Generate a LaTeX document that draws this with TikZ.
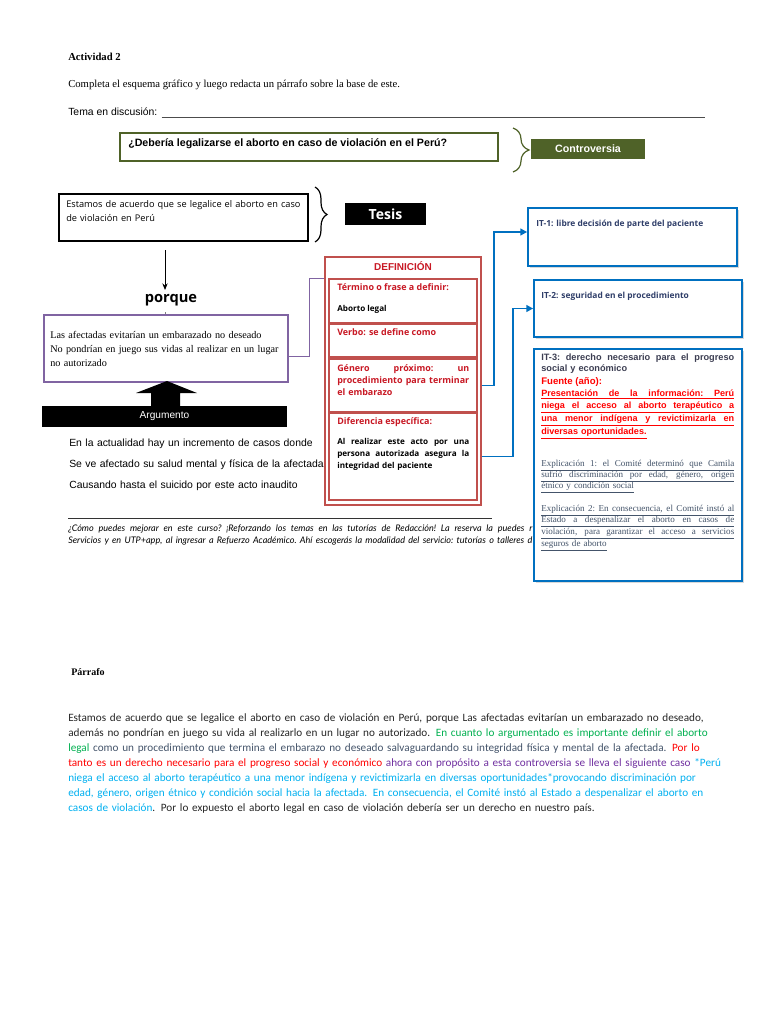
\documentclass[tikz,border=0pt]{standalone}
\usepackage{fontspec}
\setmainfont{Liberation Serif}
\newfontfamily\arial{Liberation Sans}
\newfontfamily\osans{Open Sans}
\newfontfamily\carl{Carlito}
\newfontfamily\lato{Lato}
\usetikzlibrary{fit,decorations.pathreplacing,arrows.meta,shadows}
\definecolor{olivegr}{RGB}{79,98,40}
\definecolor{defred}{RGB}{192,80,77}
\definecolor{deftext}{RGB}{200,24,36}
\definecolor{itblue}{RGB}{0,112,192}
\definecolor{ittext}{RGB}{47,62,105}
\definecolor{itgray}{RGB}{60,62,82}
\definecolor{expl}{RGB}{68,84,106}
\definecolor{purpleb}{RGB}{128,100,162}
\definecolor{pblack}{RGB}{38,38,38}
\definecolor{pgreen}{RGB}{0,176,80}
\definecolor{pslate}{RGB}{68,84,106}
\definecolor{pred}{RGB}{255,0,0}
\definecolor{ppurple}{RGB}{112,48,160}
\definecolor{pcyan}{RGB}{0,176,240}
\newcommand\jline[1]{\begingroup\spaceskip=\fontdimen2\font plus 1fil minus \fontdimen4\font\relax\xspaceskip=\spaceskip\makebox[\linewidth][s]{#1}\endgroup}
\begin{document}
\begin{tikzpicture}[x=0.75pt,y=-0.75pt,
  txt/.style={inner sep=0pt, anchor=base west},
  bx/.style={inner sep=0pt},
  itbox/.style={inner sep=0pt, draw=itblue, line width=1.3pt, fill=white,
     drop shadow={shadow xshift=1.2pt, shadow yshift=-1.2pt, opacity=0.3}},
  subbox/.style={inner sep=0pt, draw=defred, line width=0.8pt},
  redlbl/.style={txt, text=deftext, font=\osans\bfseries\fontsize{6.7}{9}\selectfont},
  blklbl/.style={txt, text=black, font=\osans\bfseries\fontsize{6.1}{9}\selectfont},
  bluelink/.style={itblue, line width=1.4pt, -{Triangle[length=5pt,width=5pt]}}
]
\fill[white] (0,0) rectangle (768,1024);
\useasboundingbox (0,0) rectangle (768,1024);

% header
\node[txt, font=\bfseries\fontsize{8}{9}\selectfont] (act) at (68,61) {Actividad 2};
\node[txt, font=\fontsize{8}{9}\selectfont] (inst) at (68,88) {Completa el esquema gráfico y luego redacta un párrafo sobre la base de este.};
\node[txt, font=\arial\fontsize{7.8}{9}\selectfont] (tema) at (68,115) {Tema en discusión:\kern3pt};
\coordinate (temaA) at ([yshift=-1.5pt]tema.base east);
\coordinate (temaend) at (705,118);
\draw[line width=0.5pt, black!70] (temaA) -- (temaA -| temaend);

% question
\node[bx, fit={(120,133) (498,161)}, draw=olivegr, line width=1.2pt] (q) {};
\node[txt, font=\arial\bfseries\fontsize{8}{9}\selectfont] (qt) at (128,146) {¿Debería legalizarse el aborto en caso de violación en el Perú?};
\coordinate (br1a) at (513,128);
\coordinate (br1b) at (513,172);
\draw[olivegr, line width=0.9pt, decorate, decoration={brace, amplitude=12pt}] (br1a) -- (br1b);
\node[bx, fit={(531,139) (645,159)}, fill=olivegr] (ctrl) {};
\node[text=white, font=\arial\bfseries\fontsize{8}{9}\selectfont] (ctrlt) at (ctrl.center) {Controversia};

% thesis
\node[bx, fit={(59,194) (308,241)}, draw=black, line width=1.4pt] (th) {};
\node[txt, text width=200pt, align=left, font=\osans\fontsize{6.9}{10.5}\selectfont] (tht) at (66,207) {Estamos de acuerdo que se legalice el aborto en caso\\de violación en Perú};
\coordinate (br2a) at (315,187);
\coordinate (br2b) at (315,242);
\draw[black, line width=0.9pt, decorate, decoration={brace, amplitude=9pt}] (br2a) -- (br2b);
\node[bx, fit={(345,203) (426,225)}, fill=black] (tes) {};
\node[text=white, font=\osans\bfseries\fontsize{10.5}{11}\selectfont] (test) at (tes.center) {Tesis};

% porque
\coordinate (ar1) at (165,250);
\coordinate (ar2) at (165,290);
\draw[-{Stealth[length=5pt,width=4pt]}, line width=0.6pt] (ar1) -- (ar2);
\node[font=\osans\bfseries\fontsize{11}{12}\selectfont] (porque) at (171,300) {porque};
\node[bx, fit={(44,315) (288,382)}, draw=purpleb, line width=1.3pt] (arg) {};
\coordinate (pq1) at (165,312);
\draw[line width=0.4pt, gray] (pq1) -- (pq1 |- arg.north);
\node[txt, text width=240pt, align=left, font=\fontsize{7.65}{10.5}\selectfont] (argt) at (50,338) {Las afectadas evitarían un embarazado no deseado\\No pondrían en juego sus vidas al realizar en un lugar\\no autorizado};

% big arrow and Argumento
\fill[black] (151,406) -- (151,393) -- (136,393) -- (167,381) -- (197,393) -- (180,393) -- (180,406) -- cycle;
\node[bx, fit={(42,406) (287,427)}, fill=black] (argu) {};
\node[text=white, font=\arial\fontsize{7.6}{9}\selectfont] (argut) at (argu.center) {Argumento};
\node[txt, text width=300pt, align=left, font=\arial\fontsize{7.8}{15.75}\selectfont] (lines) at (69,446) {En la actualidad hay un incremento de casos donde\\Se ve afectado su salud mental y física de la afectada\\Causando hasta el suicido por este acto inaudito};

% footnote
\coordinate (fn1) at (68,518);
\coordinate (fn2) at (492,518);
\draw[line width=0.4pt, black!80] (fn1) -- (fn2);
\node[txt, text width=348pt, align=left, font=\lato\itshape\fontsize{6.8}{9}\selectfont] (fnt) at (68,531) {\jline{¿Cómo puedes mejorar en este curso? ¡Reforzando los temas en las tutorías de Redacción! La reserva la puedes r}\\\jline{Servicios y en UTP+app, al ingresar a Refuerzo Académico. Ahí escogerás la modalidad del servicio: tutorías o talleres d}};

% definition
\node[bx, fit={(325,257) (481,505)}, draw=defred, line width=1.5pt, fill=white] (def) {};
\node[subbox, fit={(329,279) (477,323)}] (d1) {};
\node[subbox, fit={(329,324) (477,357)}] (d2) {};
\node[subbox, fit={(329,359) (477,412)}] (d3) {};
\node[subbox, fit={(329,413) (477,500)}] (d4) {};
\node[text=deftext, font=\arial\bfseries\fontsize{7.5}{9}\selectfont] (deft) at (403,266) {DEFINICIÓN};
\node[redlbl] (t1) at (337,290) {Término o frase a definir:};
\node[blklbl] (t1b) at (337,311) {Aborto legal};
\node[redlbl] (t2) at (337,335) {Verbo: se define como};
\node[redlbl, text width=99pt, align=left] (t3) at (337,371) {\jline{Género próximo: un}\\\jline{procedimiento para terminar}\\el embarazo};
\node[redlbl] (t4) at (337,424) {Diferencia específica:};
\node[blklbl, text width=99pt, align=left] (t4b) at (337,444) {\jline{Al realizar este acto por una}\\\jline{persona autorizada asegura la}\\integridad del paciente};
\draw[purpleb, line width=0.7pt] (288,356) coordinate (pc) -- ++(21,0) |- (def.west |- d1.north);

% IT boxes
\node[itbox, fit={(528,208) (737,266)}] (it1) {};
\node[itbox, fit={(534,280) (742,337)}] (it2) {};
\node[itbox, fit={(534,349) (742,581)}] (it3) {};
\draw[bluelink] (def.east |- d3.east) -- ++(12,0) |- ([yshift=3.75pt]it1.west);
\draw[bluelink] (def.east |- d4.east) -- ++(31,0) |- (it2.west);
\node[txt, text=ittext, font=\osans\bfseries\fontsize{6.3}{7}\selectfont] (it1t) at (536,226) {IT-1: libre decisión de parte del paciente};
\node[txt, text=ittext, font=\osans\bfseries\fontsize{6.3}{7}\selectfont] (it2t) at (541,298) {IT-2: seguridad en el procedimiento};
\node[txt, text width=144.75pt, align=left, text=itgray, font=\arial\bfseries\fontsize{6.9}{8.25}\selectfont] (it3a) at (541,360) {\jline{IT-3: derecho necesario para el progreso}\\social y económico};
\node[txt, text=pred, font=\arial\bfseries\fontsize{7.2}{9}\selectfont] (fuente) at (541,384) {Fuente (año):};
\node[txt, text width=144.75pt, align=left, text=pred, font=\arial\bfseries\fontsize{6.8}{9.6}\selectfont] (pres) at (541,396) {\underline{\jline{Presentación de la información: Perú}}\\\underline{\jline{niega el acceso al aborto terapéutico a}}\\\underline{\jline{una menor indígena y revictimizarla en}}\\\underline{diversas oportunidades.}};
\node[txt, text width=144.75pt, align=left, text=expl, font=\fontsize{6.8}{8.6}\selectfont] (exp1) at (541,466) {\underline{\jline{Explicación 1: el Comité determinó que Camila}}\\\underline{\jline{sufrió discriminación por edad, género, origen}}\\\underline{étnico y condición social}};
\node[txt, text width=144.75pt, align=left, text=expl, font=\fontsize{6.8}{8.75}\selectfont] (exp2) at (541,511) {\underline{\jline{Explicación 2: En consecuencia, el Comité instó al}}\\\underline{\jline{Estado a despenalizar el aborto en casos de}}\\\underline{\jline{violación, para garantizar el acceso a servicios}}\\\underline{seguros de aborto}};

% paragraph
\node[txt, font=\bfseries\fontsize{7.5}{9}\selectfont] (parr) at (71,675) {Párrafo};
\node[txt, text width=560pt, align=left, text=pblack, font=\carl\fontsize{8.4}{11.25}\selectfont] (par) at (68,721) {Estamos de acuerdo que se legalice el aborto en caso de violación en Perú, porque Las afectadas evitarían un embarazado no deseado,\\
además no pondrían en juego su vida al realizarlo en un lugar no autorizado. {\color{pgreen}En cuanto lo argumentado es importante definir el aborto}\\
{\color{pgreen}legal} {\color{pslate}como un procedimiento que termina el embarazo no deseado salvaguardando su integridad física y mental de la afectada.} {\color{pred}Por lo}\\
{\color{pred}tanto es un derecho necesario para el progreso social y económico} {\color{ppurple}ahora con propósito a esta controversia se lleva el siguiente caso} {\color{pcyan}*Perú}\\
{\color{pcyan}niega el acceso al aborto terapéutico a una menor indígena y revictimizarla en diversas oportunidades*provocando discriminación por}\\
{\color{pcyan}edad, género, origen étnico y condición social hacia la afectada. En consecuencia, el Comité instó al Estado a despenalizar el aborto en}\\
{\color{pcyan}casos de violación}. Por lo expuesto el aborto legal en caso de violación debería ser un derecho en nuestro país.};
\end{tikzpicture}
\end{document}
